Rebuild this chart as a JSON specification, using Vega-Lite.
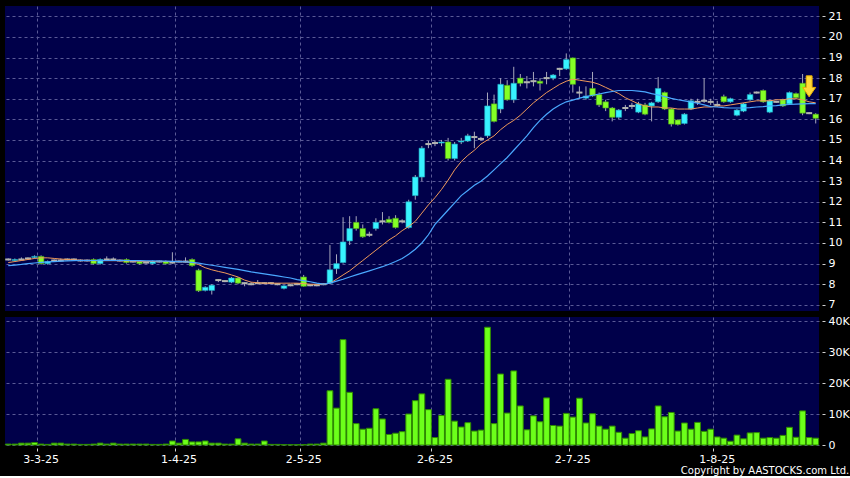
{
"$schema": "https://vega.github.io/schema/vega-lite/v6.json",
"background": "#000000",
"padding": {"left": 4, "top": 6, "right": 0, "bottom": 0},
"autosize": {"type": "pad"},
"config": {
  "view": {"fill": "#00004a", "stroke": null},
  "axis": {"labelColor": "#ffffff", "labelFont": "DejaVu Sans", "labelFontSize": 11, "tickColor": "#d0d0d0", "domain": false, "gridColor": "#5a5a96", "gridDash": [3, 3], "gridWidth": 1, "title": null, "labelOverlap": false},
  "concat": {"spacing": 4}
},
"title": {"text": "Copyright by AASTOCKS.com Ltd.", "orient": "bottom", "anchor": "end", "color": "#ffffff", "fontSize": 10, "font": "DejaVu Sans", "fontWeight": "normal", "offset": 2},
"datasets": {"k": [
{"d":"24-2-25","o":9.2,"h":9.25,"l":9.15,"c":9.2,"v":300,"m1":9.05,"m2":8.9},
{"d":"25-2-25","o":9.15,"h":9.25,"l":9.1,"c":9.2,"v":300,"m1":9.1,"m2":8.93},
{"d":"26-2-25","o":9.2,"h":9.3,"l":9.15,"c":9.2,"v":600,"m1":9.15,"m2":8.96},
{"d":"27-2-25","o":9.25,"h":9.3,"l":9.2,"c":9.25,"v":600,"m1":9.2,"m2":9.0},
{"d":"28-2-25","o":9.3,"h":9.4,"l":9.25,"c":9.35,"v":800,"m1":9.25,"m2":9.03},
{"d":"3-3-25","o":9.35,"h":9.4,"l":8.95,"c":9.0,"v":300,"m1":9.28,"m2":9.06},
{"d":"4-3-25","o":9.0,"h":9.15,"l":8.95,"c":9.1,"v":200,"m1":9.28,"m2":9.08},
{"d":"5-3-25","o":9.15,"h":9.2,"l":9.1,"c":9.15,"v":600,"m1":9.25,"m2":9.1},
{"d":"6-3-25","o":9.15,"h":9.25,"l":9.1,"c":9.15,"v":600,"m1":9.22,"m2":9.12},
{"d":"7-3-25","o":9.2,"h":9.25,"l":9.15,"c":9.2,"v":300,"m1":9.2,"m2":9.13},
{"d":"10-3-25","o":9.2,"h":9.25,"l":9.15,"c":9.2,"v":300,"m1":9.18,"m2":9.14},
{"d":"11-3-25","o":9.15,"h":9.2,"l":9.1,"c":9.15,"v":200,"m1":9.16,"m2":9.15},
{"d":"12-3-25","o":9.15,"h":9.2,"l":9.1,"c":9.15,"v":200,"m1":9.15,"m2":9.15},
{"d":"13-3-25","o":9.2,"h":9.25,"l":8.95,"c":9.0,"v":300,"m1":9.14,"m2":9.15},
{"d":"14-3-25","o":9.0,"h":9.25,"l":8.95,"c":9.2,"v":600,"m1":9.14,"m2":9.15},
{"d":"17-3-25","o":9.2,"h":9.35,"l":9.15,"c":9.2,"v":300,"m1":9.14,"m2":9.15},
{"d":"18-3-25","o":9.2,"h":9.3,"l":9.15,"c":9.2,"v":600,"m1":9.14,"m2":9.15},
{"d":"19-3-25","o":9.15,"h":9.2,"l":9.1,"c":9.15,"v":300,"m1":9.14,"m2":9.15},
{"d":"20-3-25","o":9.2,"h":9.25,"l":9.0,"c":9.05,"v":300,"m1":9.13,"m2":9.15},
{"d":"21-3-25","o":9.1,"h":9.15,"l":9.05,"c":9.1,"v":300,"m1":9.12,"m2":9.14},
{"d":"24-3-25","o":9.1,"h":9.15,"l":8.95,"c":9.0,"v":300,"m1":9.11,"m2":9.14},
{"d":"25-3-25","o":9.05,"h":9.1,"l":9.0,"c":9.05,"v":300,"m1":9.1,"m2":9.13},
{"d":"26-3-25","o":9.0,"h":9.15,"l":8.95,"c":9.1,"v":200,"m1":9.1,"m2":9.13},
{"d":"27-3-25","o":9.1,"h":9.15,"l":9.05,"c":9.1,"v":200,"m1":9.1,"m2":9.12},
{"d":"28-3-25","o":9.1,"h":9.15,"l":8.95,"c":9.0,"v":300,"m1":9.1,"m2":9.12},
{"d":"31-3-25","o":9.05,"h":9.55,"l":9.0,"c":9.05,"v":1300,"m1":9.1,"m2":9.11},
{"d":"1-4-25","o":9.1,"h":9.15,"l":9.05,"c":9.1,"v":600,"m1":9.1,"m2":9.1},
{"d":"2-4-25","o":9.1,"h":9.3,"l":9.05,"c":9.1,"v":1800,"m1":9.08,"m2":9.08},
{"d":"3-4-25","o":9.2,"h":9.25,"l":8.85,"c":8.9,"v":1000,"m1":9.05,"m2":9.06},
{"d":"7-4-25","o":8.68,"h":8.75,"l":7.62,"c":7.68,"v":1000,"m1":8.95,"m2":9.02},
{"d":"8-4-25","o":7.7,"h":7.9,"l":7.65,"c":7.85,"v":1300,"m1":8.8,"m2":8.97},
{"d":"9-4-25","o":7.7,"h":8.0,"l":7.5,"c":7.95,"v":600,"m1":8.7,"m2":8.92},
{"d":"10-4-25","o":8.2,"h":8.25,"l":8.1,"c":8.2,"v":600,"m1":8.62,"m2":8.87},
{"d":"11-4-25","o":8.15,"h":8.2,"l":8.1,"c":8.15,"v":300,"m1":8.55,"m2":8.82},
{"d":"14-4-25","o":8.1,"h":8.35,"l":8.05,"c":8.3,"v":300,"m1":8.45,"m2":8.77},
{"d":"15-4-25","o":8.3,"h":8.35,"l":8.0,"c":8.05,"v":2000,"m1":8.35,"m2":8.72},
{"d":"16-4-25","o":8.05,"h":8.1,"l":7.9,"c":8.05,"v":600,"m1":8.2,"m2":8.66},
{"d":"17-4-25","o":8.0,"h":8.1,"l":7.95,"c":8.0,"v":300,"m1":8.1,"m2":8.6},
{"d":"22-4-25","o":8.05,"h":8.2,"l":8.0,"c":8.05,"v":300,"m1":8.07,"m2":8.55},
{"d":"23-4-25","o":8.05,"h":8.1,"l":8.0,"c":8.05,"v":1300,"m1":8.05,"m2":8.5},
{"d":"24-4-25","o":8.05,"h":8.1,"l":8.0,"c":8.05,"v":200,"m1":8.05,"m2":8.45},
{"d":"25-4-25","o":8.0,"h":8.05,"l":7.95,"c":8.0,"v":200,"m1":8.05,"m2":8.4},
{"d":"28-4-25","o":7.8,"h":7.95,"l":7.75,"c":7.92,"v":100,"m1":8.05,"m2":8.35},
{"d":"29-4-25","o":7.95,"h":8.0,"l":7.9,"c":7.95,"v":100,"m1":8.05,"m2":8.3},
{"d":"30-4-25","o":8.0,"h":8.05,"l":7.95,"c":8.0,"v":100,"m1":8.05,"m2":8.22},
{"d":"2-5-25","o":8.35,"h":8.45,"l":7.88,"c":7.9,"v":100,"m1":8.03,"m2":8.17},
{"d":"6-5-25","o":7.95,"h":8.0,"l":7.9,"c":7.95,"v":300,"m1":8.0,"m2":8.12},
{"d":"7-5-25","o":7.95,"h":8.0,"l":7.9,"c":7.95,"v":300,"m1":8.0,"m2":8.05},
{"d":"8-5-25","o":8.0,"h":8.05,"l":7.95,"c":8.0,"v":600,"m1":8.0,"m2":8.0},
{"d":"9-5-25","o":8.05,"h":9.9,"l":8.0,"c":8.7,"v":17500,"m1":8.05,"m2":8.05},
{"d":"12-5-25","o":8.75,"h":9.45,"l":8.5,"c":9.0,"v":11900,"m1":8.24,"m2":8.15},
{"d":"13-5-25","o":9.05,"h":11.25,"l":9.0,"c":10.05,"v":34000,"m1":8.45,"m2":8.24},
{"d":"14-5-25","o":10.1,"h":11.3,"l":9.9,"c":10.7,"v":17000,"m1":8.65,"m2":8.35},
{"d":"15-5-25","o":11.0,"h":11.3,"l":10.6,"c":10.7,"v":6900,"m1":8.9,"m2":8.45},
{"d":"16-5-25","o":10.7,"h":10.9,"l":10.25,"c":10.3,"v":5100,"m1":9.15,"m2":8.55},
{"d":"19-5-25","o":10.4,"h":10.55,"l":10.3,"c":10.4,"v":5400,"m1":9.4,"m2":8.65},
{"d":"20-5-25","o":10.7,"h":11.2,"l":10.6,"c":11.0,"v":11700,"m1":9.65,"m2":8.75},
{"d":"21-5-25","o":11.05,"h":11.5,"l":10.9,"c":11.05,"v":8400,"m1":9.9,"m2":8.85},
{"d":"22-5-25","o":11.15,"h":11.3,"l":10.95,"c":11.0,"v":3400,"m1":10.15,"m2":8.97},
{"d":"23-5-25","o":11.2,"h":11.35,"l":10.7,"c":10.75,"v":3800,"m1":10.35,"m2":9.1},
{"d":"26-5-25","o":11.05,"h":11.15,"l":10.95,"c":11.05,"v":4300,"m1":10.6,"m2":9.25},
{"d":"27-5-25","o":10.75,"h":12.1,"l":10.7,"c":12.0,"v":10000,"m1":10.8,"m2":9.45},
{"d":"28-5-25","o":12.3,"h":13.3,"l":12.1,"c":13.2,"v":14300,"m1":11.05,"m2":9.7},
{"d":"29-5-25","o":13.2,"h":14.7,"l":13.0,"c":14.6,"v":16500,"m1":11.45,"m2":10.0},
{"d":"30-5-25","o":14.8,"h":14.95,"l":14.6,"c":14.8,"v":11400,"m1":11.85,"m2":10.4},
{"d":"2-6-25","o":14.85,"h":14.95,"l":14.7,"c":14.85,"v":2400,"m1":12.2,"m2":10.9},
{"d":"3-6-25","o":14.85,"h":15.0,"l":14.7,"c":14.9,"v":9500,"m1":12.6,"m2":11.25},
{"d":"4-6-25","o":14.9,"h":15.1,"l":14.0,"c":14.1,"v":21200,"m1":13.05,"m2":11.6},
{"d":"5-6-25","o":14.1,"h":14.9,"l":14.0,"c":14.8,"v":7700,"m1":13.55,"m2":11.95},
{"d":"6-6-25","o":14.9,"h":15.1,"l":14.8,"c":14.95,"v":5800,"m1":13.95,"m2":12.3},
{"d":"9-6-25","o":14.95,"h":15.3,"l":14.9,"c":15.2,"v":7200,"m1":14.25,"m2":12.55},
{"d":"10-6-25","o":15.14,"h":15.4,"l":14.6,"c":15.14,"v":4500,"m1":14.5,"m2":12.8},
{"d":"11-6-25","o":15.05,"h":15.15,"l":14.95,"c":15.05,"v":4800,"m1":14.8,"m2":13.0},
{"d":"12-6-25","o":15.2,"h":17.3,"l":15.1,"c":16.65,"v":38000,"m1":15.0,"m2":13.25},
{"d":"13-6-25","o":16.75,"h":17.2,"l":15.85,"c":15.9,"v":6900,"m1":15.2,"m2":13.55},
{"d":"16-6-25","o":16.5,"h":18.0,"l":16.3,"c":17.7,"v":22900,"m1":15.5,"m2":13.85},
{"d":"17-6-25","o":17.65,"h":17.9,"l":16.9,"c":16.95,"v":10300,"m1":15.75,"m2":14.15},
{"d":"18-6-25","o":16.95,"h":18.55,"l":16.8,"c":17.75,"v":23900,"m1":15.95,"m2":14.5},
{"d":"19-6-25","o":18.0,"h":18.2,"l":17.6,"c":17.75,"v":12600,"m1":16.2,"m2":14.85},
{"d":"20-6-25","o":17.8,"h":18.1,"l":17.5,"c":17.8,"v":4900,"m1":16.5,"m2":15.2},
{"d":"23-6-25","o":17.85,"h":18.3,"l":17.6,"c":17.85,"v":9400,"m1":16.8,"m2":15.6},
{"d":"24-6-25","o":17.85,"h":18.0,"l":17.4,"c":17.75,"v":7500,"m1":17.05,"m2":15.95},
{"d":"25-6-25","o":18.0,"h":18.3,"l":17.7,"c":18.0,"v":15200,"m1":17.3,"m2":16.25},
{"d":"26-6-25","o":18.0,"h":18.2,"l":17.9,"c":18.15,"v":6300,"m1":17.5,"m2":16.5},
{"d":"27-6-25","o":18.45,"h":18.5,"l":18.1,"c":18.45,"v":6100,"m1":17.7,"m2":16.7},
{"d":"30-6-25","o":18.45,"h":19.2,"l":18.4,"c":18.9,"v":10200,"m1":17.85,"m2":16.85},
{"d":"2-7-25","o":18.98,"h":19.0,"l":17.3,"c":17.7,"v":9000,"m1":17.95,"m2":16.93},
{"d":"3-7-25","o":17.3,"h":17.6,"l":17.0,"c":17.3,"v":15100,"m1":17.9,"m2":17.03},
{"d":"4-7-25","o":17.03,"h":17.6,"l":16.95,"c":17.13,"v":7100,"m1":17.85,"m2":17.1},
{"d":"7-7-25","o":17.5,"h":18.3,"l":17.1,"c":17.14,"v":10100,"m1":17.8,"m2":17.17},
{"d":"8-7-25","o":17.2,"h":17.3,"l":16.6,"c":16.7,"v":6100,"m1":17.7,"m2":17.23},
{"d":"9-7-25","o":16.85,"h":16.95,"l":16.4,"c":16.55,"v":5100,"m1":17.55,"m2":17.3},
{"d":"10-7-25","o":16.55,"h":16.6,"l":15.9,"c":16.1,"v":6100,"m1":17.4,"m2":17.35},
{"d":"11-7-25","o":16.1,"h":16.5,"l":16.0,"c":16.45,"v":4100,"m1":17.25,"m2":17.4},
{"d":"14-7-25","o":16.55,"h":16.7,"l":16.4,"c":16.55,"v":2200,"m1":17.05,"m2":17.4},
{"d":"15-7-25","o":16.65,"h":16.8,"l":16.5,"c":16.65,"v":3700,"m1":16.9,"m2":17.4},
{"d":"16-7-25","o":16.35,"h":16.85,"l":16.3,"c":16.75,"v":4600,"m1":16.75,"m2":17.37},
{"d":"17-7-25","o":16.7,"h":16.8,"l":16.2,"c":16.25,"v":2600,"m1":16.65,"m2":17.33},
{"d":"18-7-25","o":16.65,"h":16.85,"l":15.9,"c":16.8,"v":5200,"m1":16.6,"m2":17.25},
{"d":"21-7-25","o":16.85,"h":18.05,"l":16.8,"c":17.5,"v":12600,"m1":16.6,"m2":17.18},
{"d":"22-7-25","o":17.3,"h":17.35,"l":16.45,"c":16.5,"v":9100,"m1":16.55,"m2":17.1},
{"d":"23-7-25","o":16.5,"h":16.55,"l":15.65,"c":15.77,"v":10500,"m1":16.55,"m2":17.02},
{"d":"24-7-25","o":15.97,"h":16.0,"l":15.7,"c":15.75,"v":4500,"m1":16.5,"m2":16.95},
{"d":"25-7-25","o":15.8,"h":16.3,"l":15.75,"c":16.25,"v":7100,"m1":16.5,"m2":16.9},
{"d":"28-7-25","o":16.5,"h":17.0,"l":16.45,"c":16.9,"v":5100,"m1":16.5,"m2":16.85},
{"d":"29-7-25","o":16.85,"h":17.0,"l":16.7,"c":16.85,"v":7300,"m1":16.55,"m2":16.78},
{"d":"30-7-25","o":16.9,"h":18.0,"l":16.8,"c":16.9,"v":4400,"m1":16.6,"m2":16.7},
{"d":"31-7-25","o":16.85,"h":17.0,"l":16.7,"c":16.85,"v":5100,"m1":16.6,"m2":16.62},
{"d":"1-8-25","o":16.7,"h":16.9,"l":16.6,"c":16.7,"v":2600,"m1":16.65,"m2":16.6},
{"d":"4-8-25","o":17.1,"h":17.2,"l":16.8,"c":16.85,"v":2200,"m1":16.65,"m2":16.57},
{"d":"5-8-25","o":16.85,"h":17.05,"l":16.8,"c":17.0,"v":1200,"m1":16.7,"m2":16.55},
{"d":"6-8-25","o":16.2,"h":16.5,"l":16.15,"c":16.45,"v":3200,"m1":16.75,"m2":16.55},
{"d":"7-8-25","o":16.4,"h":16.8,"l":16.35,"c":16.75,"v":2000,"m1":16.8,"m2":16.55},
{"d":"8-8-25","o":16.95,"h":17.3,"l":16.9,"c":17.2,"v":3900,"m1":16.85,"m2":16.57},
{"d":"11-8-25","o":17.3,"h":17.35,"l":17.25,"c":17.3,"v":4000,"m1":16.9,"m2":16.6},
{"d":"12-8-25","o":17.4,"h":17.45,"l":16.8,"c":16.85,"v":2200,"m1":16.9,"m2":16.62},
{"d":"13-8-25","o":16.35,"h":16.95,"l":16.3,"c":16.9,"v":2400,"m1":16.9,"m2":16.65},
{"d":"14-8-25","o":16.85,"h":16.9,"l":16.8,"c":16.85,"v":2200,"m1":16.95,"m2":16.67},
{"d":"15-8-25","o":16.95,"h":17.0,"l":16.6,"c":16.65,"v":3100,"m1":16.95,"m2":16.7},
{"d":"18-8-25","o":16.75,"h":17.35,"l":16.7,"c":17.3,"v":5700,"m1":17.0,"m2":16.72},
{"d":"19-8-25","o":17.25,"h":17.3,"l":17.0,"c":17.05,"v":2500,"m1":17.0,"m2":16.74},
{"d":"20-8-25","o":17.75,"h":18.2,"l":16.2,"c":16.3,"v":11000,"m1":16.95,"m2":16.75},
{"d":"21-8-25","o":16.3,"h":16.35,"l":16.25,"c":16.3,"v":2400,"m1":16.85,"m2":16.76,"ar":17.6},
{"d":"22-8-25","o":16.25,"h":16.3,"l":15.8,"c":16.05,"v":2200,"m1":16.8,"m2":16.76}
]},
"vconcat": [
{
  "width": 814, "height": 305,
  "data": {"name": "k"},
  "encoding": {
    "x": {"field": "d", "type": "ordinal", "sort": null,
          "scale": {"type": "band", "paddingInner": 0, "paddingOuter": 0},
          "axis": {"values": ["3-3-25","1-4-25","2-5-25","2-6-25","2-7-25","1-8-25"], "labels": false, "ticks": false, "grid": true, "bandPosition": 0}}
  },
  "layer": [
    {"mark": {"type": "rule", "color": "#a8a8bc", "strokeWidth": 1},
     "encoding": {
       "y": {"field": "l", "type": "quantitative", "scale": {"domain": [6.7, 21.5], "nice": false, "zero": false},
             "axis": {"orient": "right", "values": [7,8,9,10,11,12,13,14,15,16,17,18,19,20,21], "offset": 3, "tickSize": 3, "labelPadding": 3, "grid": true, "labelOverlap": false}},
       "y2": {"field": "h"}}},
    {"mark": {"type": "bar", "width": {"band": 0.85}, "strokeWidth": 0.6},
     "encoding": {
       "y": {"field": "o", "type": "quantitative", "scale": {"domain": [6.7, 21.5], "nice": false, "zero": false},
             "axis": {"orient": "right", "values": [7,8,9,10,11,12,13,14,15,16,17,18,19,20,21], "offset": 3, "tickSize": 3, "labelPadding": 3, "grid": true, "labelOverlap": false}},
       "y2": {"field": "c"},
       "color": {"condition": {"test": "datum.c > datum.o", "value": "#38f2ff"}, "value": "#84ff26"},
       "stroke": {"condition": {"test": "datum.c > datum.o", "value": "#20a8c0"}, "value": "#4aa018"}}},
    {"transform": [{"filter": "datum.o == datum.c"}],
     "mark": {"type": "tick", "orient": "horizontal", "color": "#b4b4b4", "thickness": 2, "size": 6, "opacity": 1},
     "encoding": {"y": {"field": "c", "type": "quantitative", "scale": {"domain": [6.7, 21.5], "nice": false, "zero": false},
             "axis": {"orient": "right", "values": [7,8,9,10,11,12,13,14,15,16,17,18,19,20,21], "offset": 3, "tickSize": 3, "labelPadding": 3, "grid": true, "labelOverlap": false}}}},
    {"mark": {"type": "line", "color": "#f09a5a", "strokeWidth": 1},
     "encoding": {"y": {"field": "m1", "type": "quantitative", "scale": {"domain": [6.7, 21.5], "nice": false, "zero": false},
             "axis": {"orient": "right", "values": [7,8,9,10,11,12,13,14,15,16,17,18,19,20,21], "offset": 3, "tickSize": 3, "labelPadding": 3, "grid": true, "labelOverlap": false}}}},
    {"mark": {"type": "line", "color": "#4aa8ff", "strokeWidth": 1.2},
     "encoding": {"y": {"field": "m2", "type": "quantitative", "scale": {"domain": [6.7, 21.5], "nice": false, "zero": false},
             "axis": {"orient": "right", "values": [7,8,9,10,11,12,13,14,15,16,17,18,19,20,21], "offset": 3, "tickSize": 3, "labelPadding": 3, "grid": true, "labelOverlap": false}}}},
    {"transform": [{"filter": "isValid(datum.ar)"}],
     "mark": {"type": "point", "shape": "M-0.28,-1L0.28,-1L0.28,0.1L0.62,0.1L0,1L-0.62,0.1L-0.28,0.1Z", "size": 441, "filled": true, "fill": "#ffd83a", "stroke": "#e8b000", "strokeWidth": 1, "opacity": 1},
     "encoding": {"y": {"field": "ar", "type": "quantitative", "scale": {"domain": [6.7, 21.5], "nice": false, "zero": false},
             "axis": {"orient": "right", "values": [7,8,9,10,11,12,13,14,15,16,17,18,19,20,21], "offset": 3, "tickSize": 3, "labelPadding": 3, "grid": true, "labelOverlap": false}}}}
  ]
},
{
  "width": 814, "height": 128,
  "data": {"name": "k"},
  "mark": {"type": "bar", "width": {"band": 0.88}, "fill": "#6cff1a", "stroke": "#2f8a00", "strokeWidth": 1},
  "encoding": {
    "x": {"field": "d", "type": "ordinal", "sort": null,
          "scale": {"type": "band", "paddingInner": 0, "paddingOuter": 0},
          "axis": {"values": ["3-3-25","1-4-25","2-5-25","2-6-25","2-7-25","1-8-25"], "grid": true, "bandPosition": 0, "labelAngle": 0, "offset": 3, "tickSize": 3, "labelPadding": 2}},
    "y": {"field": "v", "type": "quantitative", "scale": {"domain": [0, 41300], "nice": false},
          "axis": {"orient": "right", "values": [0, 10000, 20000, 30000, 40000], "labelExpr": "datum.value == 0 ? '0' : (datum.value / 1000) + 'K'", "offset": 3, "tickSize": 3, "labelPadding": 3, "grid": true, "labelOverlap": false}}
  }
}
]
}
